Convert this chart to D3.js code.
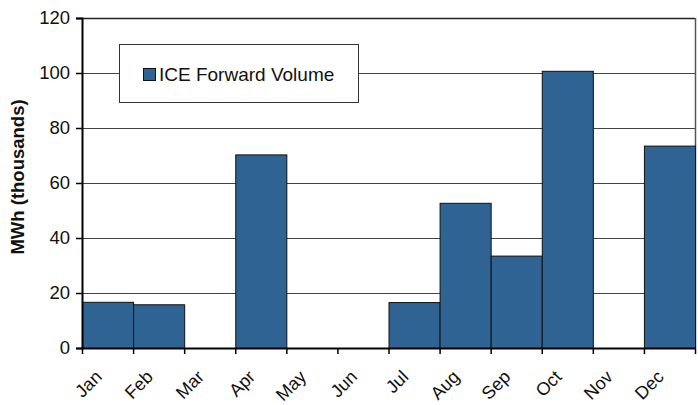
<!DOCTYPE html>
<html>
<head>
<meta charset="utf-8">
<script src="https://cdn.jsdelivr.net/npm/d3@7"></script>
<style>
  html, body { margin: 0; padding: 0; background: #fff; }
  svg { display: block; font-family: Arial, "Liberation Sans", sans-serif; }
</style>
</head>
<body>
<svg id="chart" width="698" height="405"></svg>
<script>
// Monthly ICE forward volume, MWh (thousands)
const months = ["Jan", "Feb", "Mar", "Apr", "May", "Jun", "Jul", "Aug", "Sep", "Oct", "Nov", "Dec"];
const volume = [16.8, 15.9, 0, 70.4, 0, 0, 16.7, 52.8, 33.6, 100.8, 0, 73.6];
const yTicks = [0, 20, 40, 60, 80, 100, 120];
const seriesName = "ICE Forward Volume";
const yTitle = "MWh (thousands)";

const svg = d3.select("#chart");
const plotL = 82, plotR = 695, plotT = 18, plotB = 348;
const barColor = "#2e6393";

const x = d3.scaleBand().domain(months).range([plotL, plotR]).padding(0);
const y = d3.scaleLinear().domain([0, 120]).range([plotB, plotT]);

// horizontal gridlines
svg.append("g")
  .selectAll("line")
  .data(yTicks.filter(t => t > 0))
  .join("line")
  .attr("x1", plotL).attr("x2", plotR)
  .attr("y1", d => y(d) + 0.5).attr("y2", d => y(d) + 0.5)
  .attr("stroke", d => d === 120 ? "#222" : "#444")
  .attr("stroke-width", d => d === 120 ? 1.5 : 1);

// right border of the plot area
svg.append("line")
  .attr("x1", plotR + 0.5).attr("x2", plotR + 0.5)
  .attr("y1", plotT).attr("y2", plotB)
  .attr("stroke", "#555").attr("stroke-width", 1.5);

// bars
svg.append("g")
  .selectAll("rect")
  .data(months.map((m, i) => ({ m, v: volume[i] })).filter(d => d.v > 0))
  .join("rect")
  .attr("x", d => x(d.m) + 0.5)
  .attr("y", d => y(d.v) + 0.5)
  .attr("width", x.bandwidth())
  .attr("height", d => plotB - y(d.v))
  .attr("fill", barColor)
  .attr("stroke", "#111")
  .attr("stroke-width", 1);

// y axis
const yAxis = d3.axisLeft(y).tickValues(yTicks).tickSize(6).tickPadding(6).tickFormat(d3.format("d"));
const gy = svg.append("g").attr("transform", `translate(${plotL},0)`).call(yAxis);
gy.select(".domain").attr("stroke", "#000").attr("stroke-width", 2);
gy.selectAll(".tick line").attr("stroke", "#000").attr("stroke-width", 1.5);
gy.selectAll(".tick text").attr("font-size", 18.5).attr("fill", "#111")
  .attr("font-family", "Arial, 'Liberation Sans', sans-serif");

// x axis: ticks on band boundaries, labels at each band's left boundary
const xAxisG = svg.append("g");
xAxisG.append("line")
  .attr("x1", plotL).attr("x2", plotR + 1)
  .attr("y1", plotB + 0.5).attr("y2", plotB + 0.5)
  .attr("stroke", "#000").attr("stroke-width", 2);
const boundaries = months.map(m => x(m)).concat([plotR]);
xAxisG.selectAll("line.tk")
  .data(boundaries)
  .join("line")
  .attr("class", "tk")
  .attr("x1", d => d + 0.5).attr("x2", d => d + 0.5)
  .attr("y1", plotB).attr("y2", plotB + 6)
  .attr("stroke", "#000").attr("stroke-width", 1.5);
xAxisG.selectAll("text")
  .data(months)
  .join("text")
  .attr("transform", d => `translate(${x(d) + 21},${plotB + 30}) rotate(-45)`)
  .attr("text-anchor", "end")
  .attr("font-size", 18)
  .attr("fill", "#111")
  .text(d => d);

// y axis title
svg.append("text")
  .attr("transform", `translate(24,${(plotT + plotB) / 2 - 6}) rotate(-90)`)
  .attr("text-anchor", "middle")
  .attr("font-size", 18.5)
  .attr("font-weight", "bold")
  .attr("fill", "#111")
  .text(yTitle);

// legend
const lg = svg.append("g");
lg.append("rect")
  .attr("x", 119.5).attr("y", 44.5).attr("width", 239).attr("height", 58)
  .attr("fill", "#fff").attr("stroke", "#333").attr("stroke-width", 1);
lg.append("rect")
  .attr("x", 143.5).attr("y", 68.5).attr("width", 12).attr("height", 12)
  .attr("fill", barColor).attr("stroke", "#111").attr("stroke-width", 1);
lg.append("text")
  .attr("x", 159).attr("y", 81)
  .attr("font-size", 19)
  .attr("fill", "#111")
  .text(seriesName);
</script>
</body>
</html>
